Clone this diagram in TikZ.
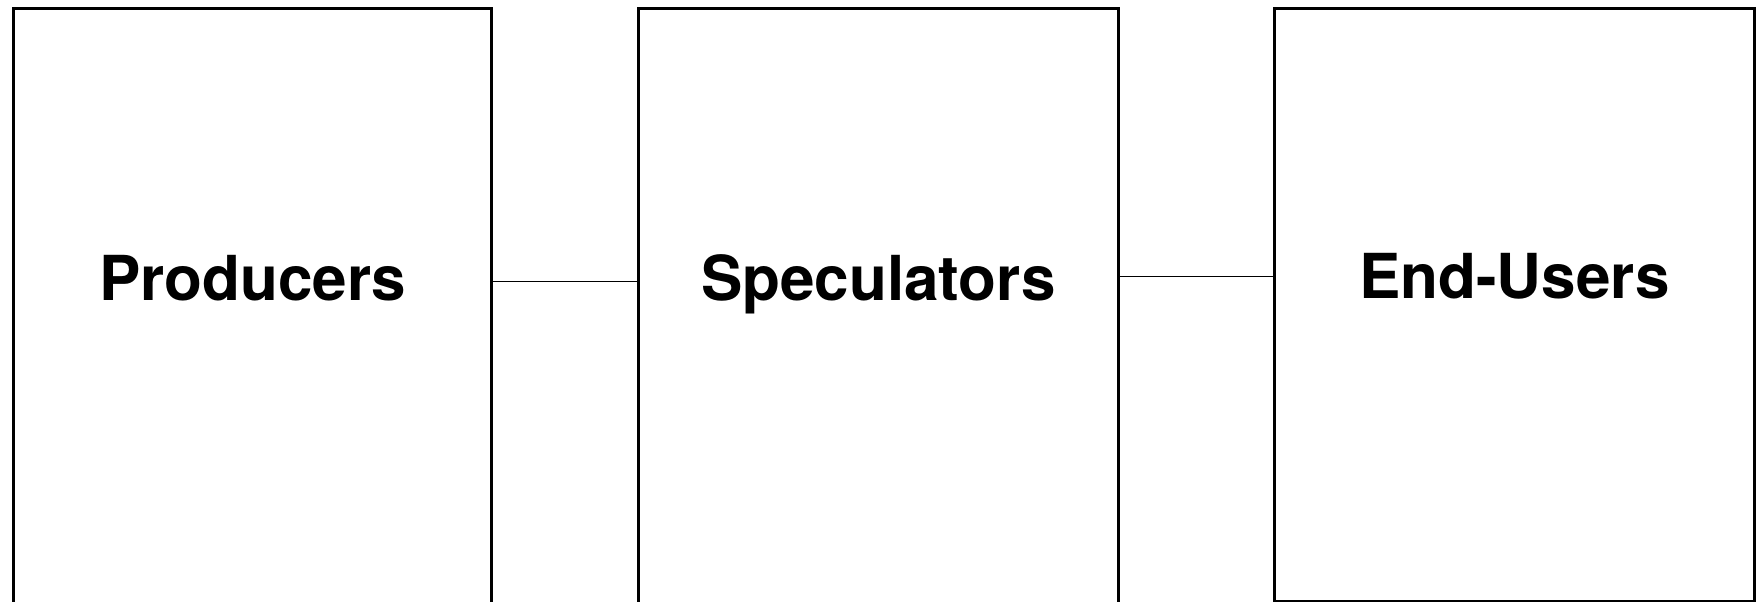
\documentclass[tikz,border=0pt]{standalone}
\usepackage{fontspec}
\setmainfont{TeX Gyre Heros}
\usetikzlibrary{positioning, calc}

\begin{document}
\begin{tikzpicture}[
    x=1pt, y=-1pt,
    panel/.style={draw, rectangle, line width=2.4pt, minimum width=480pt, minimum height=610pt, anchor=north},
    actor/.style={anchor=base, font=\fontsize{62}{74}\selectfont\bfseries},
    link/.style={line width=1.6pt}
]
    \useasboundingbox (0,0) rectangle (1759,602);

    % Boxes
    \node[panel, minimum width=478pt] (prodbox) at (252.5,7.5) {};
    \node[panel] (specbox) [right=144.5pt of prodbox.north east, anchor=north west] {};
    \node[panel, minimum height=592pt] (userbox) [right=153.5pt of specbox.north east, anchor=north west] {};

    % Labels
    \node[actor] (prod) at ($(prodbox.north)+(0,293)$) {Producers};
    \node[actor] (spec) at ($(specbox.north)+(0,293)$) {Speculators};
    \node[actor] (user) at ($(userbox.north)+(0,291)$) {End-Users};

    % Links
    \draw[link] ($(prodbox.north east)+(0,274)$) -- ($(specbox.north west)+(0,274)$);
    \draw[link] ($(specbox.north east)+(0,269)$) -- ($(userbox.north west)+(0,269)$);

\end{tikzpicture}
\end{document}
